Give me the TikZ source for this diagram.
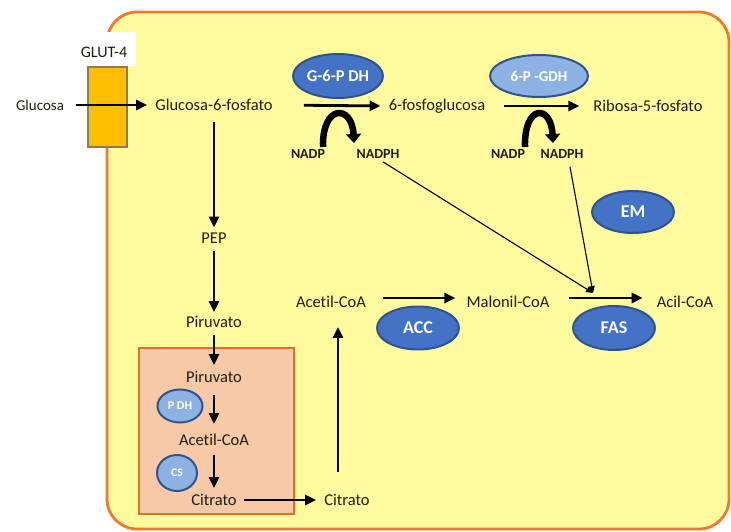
\documentclass[tikz,border=0pt]{standalone}
\usepackage{fontspec}
\setmainfont{Carlito}[Ligatures=NoCommon]
\usetikzlibrary{arrows.meta,shapes.geometric}
\definecolor{cellfill}{HTML}{FFFB9E}
\definecolor{cellline}{HTML}{EE7A30}
\definecolor{mitofill}{HTML}{F8C9A6}
\definecolor{mitoline}{HTML}{E2701E}
\definecolor{glutfill}{HTML}{FFBF00}
\definecolor{glutline}{HTML}{8A7D55}
\definecolor{enzdark}{HTML}{4472C4}
\definecolor{enzlight}{HTML}{8CB2E4}
\definecolor{enzline}{HTML}{2E5490}
\definecolor{txt}{HTML}{1E1E0E}
\begin{document}
\begin{tikzpicture}[x=1pt,y=-1pt,
  lbl/.style={inner sep=0pt, text=txt, font=\fontsize{16.5}{18}\selectfont},
  small/.style={inner sep=0pt, text=txt, font=\bfseries\fontsize{14}{16}\selectfont},
  enzd/.style={ellipse, draw=enzline, line width=2pt, fill=enzdark, text=white, inner sep=0pt, font=\bfseries\fontsize{18}{20}\selectfont},
  enzl/.style={ellipse, draw=enzline, line width=2pt, fill=enzlight, text=white, inner sep=0pt, font=\bfseries\fontsize{15}{17}\selectfont},
  arr/.style={-{Triangle[length=11pt,width=10pt]}, line width=2.8pt, black},
  thinarr/.style={-{Triangle[length=7pt,width=6pt]}, line width=1.1pt, black},
  curv/.style={-{Triangle[length=9pt,width=15pt]}, line width=6.5pt, black}]
\useasboundingbox (0,0) rectangle (731,532);
% cell
\draw[cellline, line width=2.8pt, fill=cellfill, rounded corners=30pt] (107,12) rectangle (729,529);
\fill[white] (74,32) rectangle (136,66);
\node[lbl, font=\fontsize{16}{18}\selectfont] (glutlbl) at (104,52) {GLUT-4};
\node[draw=glutline, fill=glutfill, line width=1.8pt, minimum width=39pt, minimum height=80pt, inner sep=0pt] (glut) at (107.5,107) {};
% mitochondrion
\draw[mitoline, fill=mitofill, line width=2.8pt] (139,348) rectangle (294,514);
% texts
\node[lbl, font=\fontsize{15}{17}\selectfont] (glu) at (40,105) {Glucosa};
\node[lbl] (g6p) at (214,105) {Glucosa-6-fosfato};
\node[lbl] (fg) at (437,106) {6-fosfoglucosa};
\node[lbl] (r5p) at (648,106) {Ribosa-5-fosfato};
\node[lbl] (pep) at (214,238) {PEP};
\node[lbl] (pir) at (214,322) {Piruvato};
\node[lbl] (pir2) at (214,377) {Piruvato};
\node[lbl] (acm) at (214,440) {Acetil-CoA};
\node[lbl] (cit1) at (214,500) {Citrato};
\node[lbl] (cit2) at (347,500) {Citrato};
\node[lbl] (aco) at (331,302) {Acetil-CoA};
\node[lbl] (mal) at (508,302) {Malonil-CoA};
\node[lbl] (acil) at (685,302) {Acil-CoA};
\node[small] (nadp1) at (308,154) {NADP};
\node[small] (nadph1) at (378,154) {NADPH};
\node[small] (nadp2) at (508,154) {NADP};
\node[small] (nadph2) at (562,154) {NADPH};
% enzymes
\node[enzd, minimum width=90pt, minimum height=44pt, font=\bfseries\fontsize{16.5}{18}\selectfont] (g6pdh) at (338,76) {G-6-P DH};
\node[enzl, minimum width=98pt, minimum height=42pt] (pgdh) at (539,76) {6-P -GDH};
\node[enzd, minimum width=82pt, minimum height=42pt] (em) at (633,212) {EM};
\node[enzd, minimum width=82pt, minimum height=43pt] (acc) at (418,328) {ACC};
\node[enzd, minimum width=82pt, minimum height=44pt] (fas) at (614,328) {FAS};
\node[enzl, minimum width=45pt, minimum height=33pt, font=\bfseries\fontsize{12}{14}\selectfont] (pdh) at (180,406) {P DH};
\node[enzl, minimum width=40pt, minimum height=36pt, font=\bfseries\fontsize{11.5}{13}\selectfont] (cs) at (177,473) {CS};
% main arrows
\draw[arr, shorten <=12pt, shorten >=8pt] (glu.east) -- (g6p.west);
\draw[arr, shorten <=31pt, shorten >=8pt] (g6p.east) -- (fg.west);
\draw[arr, shorten <=19pt, shorten >=14pt] (fg.east) -- (r5p.west);
\draw[arr, shorten <=11pt, shorten >=5pt] (g6p.south) -- (pep.north);
\draw[arr, shorten <=8pt, shorten >=4pt] (pep.south) -- (pir.north);
\draw[arr, shorten <=7pt, shorten >=6pt] (pir.south) -- (pir2.north);
\draw[arr, shorten <=12pt, shorten >=10pt] (pir2.south) -- (acm.north);
\draw[arr, shorten <=9pt, shorten >=6pt] (acm.south) -- (cit1.north);
\draw[arr, shorten <=7pt, shorten >=8pt] (cit1.east) -- (cit2.west);
\draw[arr] ([xshift=-9pt,yshift=22pt]cit2.north) -- ([xshift=7pt,yshift=-19pt]aco.south);
\draw[arr, shorten <=17pt, shorten >=11pt] ([yshift=4pt]aco.east) -- ([yshift=4pt]mal.west);
\draw[arr, shorten <=19pt, shorten >=14pt] ([yshift=4pt]mal.east) -- ([yshift=4pt]acil.west);
% cofactor arcs
\coordinate (c1s) at (323,147);
\coordinate (c1e) at (354,143);
\coordinate (c2s) at (525,147);
\coordinate (c2e) at (553,143);
\draw[curv] (c1s) .. controls (322,104) and (352,104) .. (c1e);
\draw[curv] (c2s) .. controls (524,104) and (551,104) .. (c2e);
% NADPH to FAS
\coordinate (fasin) at (593,293);
\draw[thinarr, shorten <=6pt] (nadph1.south) -- (fasin);
\draw[thinarr] ([xshift=8pt,yshift=-8pt]nadph2.south) -- (fasin);
\end{tikzpicture}
\end{document}
